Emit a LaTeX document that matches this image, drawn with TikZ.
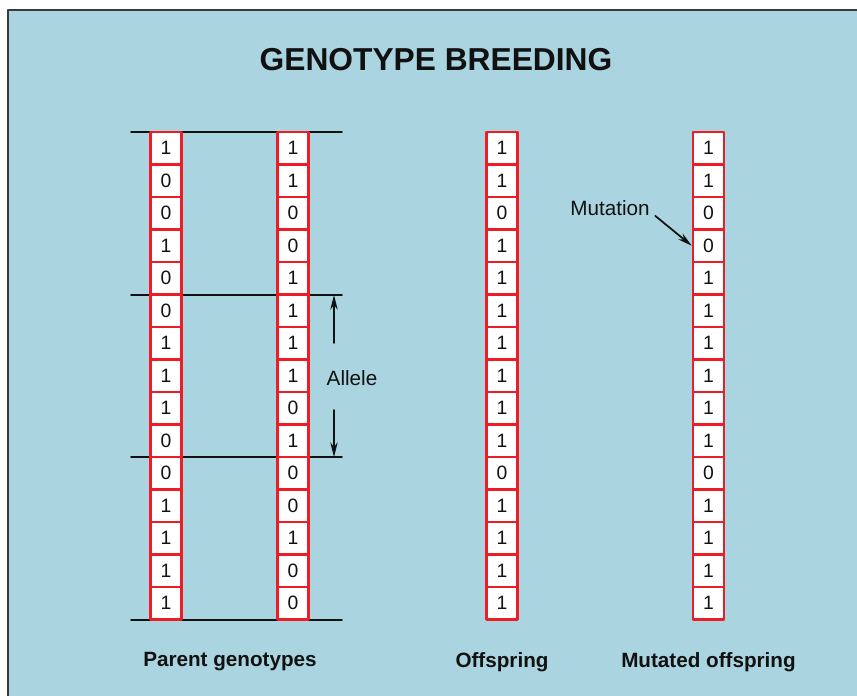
\documentclass[tikz,border=0pt]{standalone}
\usepackage{fontspec}
\setmainfont{Liberation Sans}
\usetikzlibrary{arrows.meta}
\definecolor{panelblue}{HTML}{A9D4E0}
\definecolor{cellred}{HTML}{EE1C25}
\definecolor{ink}{HTML}{111111}
\definecolor{framegray}{HTML}{3A3A3A}
\tikzset{
  >={Stealth[length=11pt,width=5.5pt]},
  cell/.style={draw=cellred, fill=white, line width=1.9pt, minimum width=23.2pt,
               minimum height=24.375pt, inner sep=0pt,
               font=\fontsize{14.5}{17}\selectfont, text=ink},
  rule/.style={draw=ink, line width=1.4pt},
  pointer/.style={draw=ink, line width=1.3pt, ->},
  tag/.style={font=\fontsize{15.5}{18}\selectfont, text=ink, inner sep=1pt},
  caption/.style={font=\fontsize{15.5}{18}\selectfont\bfseries, text=ink},
}

\begin{document}
\begin{tikzpicture}[x=0.75pt, y=-0.75pt, line cap=round, line join=round]
\useasboundingbox (0,0) rectangle (857,696);

% ===================== panel =====================
\fill[white] (0,0) rectangle (857,696);
\fill[panelblue] (8,10) rectangle (857,696);
\draw[framegray, line width=1.5pt, line cap=butt] (8,696) -- (8,10) -- (857,10);

\node[font=\fontsize{23.8}{28}\selectfont\bfseries, text=ink] (title) at (436,60)
  {GENOTYPE BREEDING};

% ===================== allele boundaries =====================
\foreach \k/\y in {0/132,1/295,2/457,3/620}{
  \coordinate (bl\k) at (131,\y);
  \coordinate (br\k) at (342,\y);
  \draw[rule] (bl\k) -- (br\k);
}

% ===================== chromosomes =====================
\foreach \b [count=\i from 0] in {1,0,0,1,0,0,1,1,1,0,0,1,1,1,1}
  {\node[cell] (pa\i) at (166,{148.25+32.5*\i}) {\b};}
\foreach \b [count=\i from 0] in {1,1,0,0,1,1,1,1,0,1,0,0,1,0,0}
  {\node[cell] (pb\i) at (293,{148.25+32.5*\i}) {\b};}
\foreach \b [count=\i from 0] in {1,1,0,1,1,1,1,1,1,1,0,1,1,1,1}
  {\node[cell] (off\i) at (502,{148.25+32.5*\i}) {\b};}
\foreach \b [count=\i from 0] in {1,1,0,0,1,1,1,1,1,1,0,1,1,1,1}
  {\node[cell] (mut\i) at (708.5,{148.25+32.5*\i}) {\b};}

% ===================== labels and pointers =====================
\node[tag] (allele) at (352,378) {Allele};
\coordinate (up) at (334,343);
\coordinate (upend) at (334,295);
\coordinate (dn) at (334,410);
\coordinate (dnend) at (334,457);
\draw[pointer] (up) -- (upend);
\draw[pointer] (dn) -- (dnend);

\node[tag] (mutation) at (610,208) {Mutation};
\draw[pointer] ([xshift=3pt,yshift=1pt]mutation.south east) -- (mut3.west);

\node[caption] (parents) at (230,662) {Parent genotypes};
\node[caption] (offspring) at (502,662) {Offspring};
\node[caption] (mutated) at (708.5,662) {Mutated offspring};

\end{tikzpicture}
\end{document}
